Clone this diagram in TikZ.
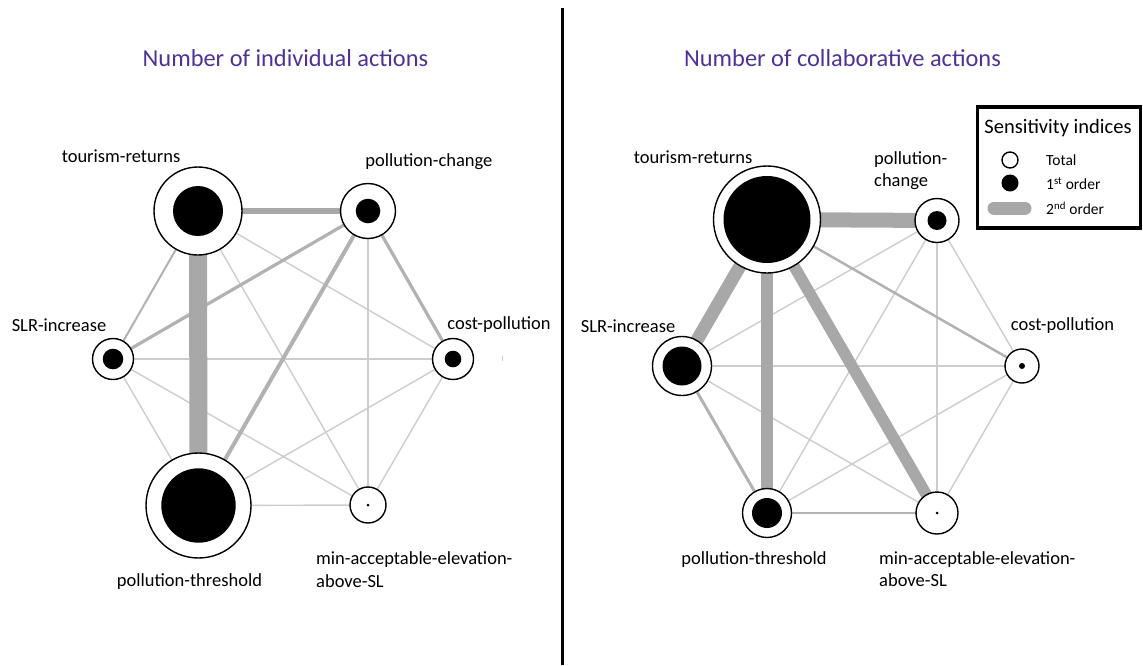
\documentclass[tikz,border=0pt]{standalone}
\usepackage{fontspec}
\setmainfont{Carlito}
\usetikzlibrary{backgrounds}
\definecolor{ttl}{RGB}{80,50,150}
\definecolor{thk}{RGB}{168,168,168}
\definecolor{mid}{RGB}{178,178,178}
\definecolor{lgt}{RGB}{205,205,205}
\tikzset{
  outer/.style={circle,draw=black,line width=1.4pt,fill=white,inner sep=0pt,minimum size=#1},
  innerdot/.style={circle,fill=black,inner sep=0pt,minimum size=#1},
  lbl/.style={font=\fontsize{18.5}{21}\selectfont,inner sep=0pt,align=left},
  title/.style={font=\fontsize{24.4}{27}\selectfont,text=ttl,inner sep=0pt},
  thin edge/.style={draw=lgt,line width=1.4pt},
  mid edge/.style={draw=mid,line width=#1},
  thick edge/.style={draw=thk,line width=#1},
}
\begin{document}
\begin{tikzpicture}[x=1pt,y=-1pt]
\useasboundingbox (0,0) rectangle (1143,665);
% divider
\coordinate (dtop) at (562,8);
\coordinate (dbot) at (562,665);
\draw[line width=3pt] (dtop) -- (dbot);
% titles
\node[title] (t1) at (285.5,58.5) {Number of individual actions};
\node[title] (t2) at (842.5,58.5) {Number of collaborative actions};

% ===== left panel nodes =====
\node[outer=88pt] (lTR) at (198,211) {};
\node[outer=55pt] (lPC) at (368,211) {};
\node[outer=41pt] (lSLR) at (113,359) {};
\node[outer=41pt] (lCP) at (453,359) {};
\node[outer=105pt] (lPT) at (198.5,505.5) {};
\node[outer=36pt] (lMA) at (368,505) {};
\node[innerdot=50pt] (lTRi) at (lTR) {};
\node[innerdot=24.6pt] (lPCi) at (lPC) {};
\node[innerdot=20.6pt] (lSLRi) at (lSLR) {};
\node[innerdot=16.6pt] (lCPi) at (lCP) {};
\node[innerdot=74.4pt] (lPTi) at (lPT) {};
\node[innerdot=3pt] (lMAi) at (lMA) {};
% left labels
\node[lbl] (llTR) at (121,156.5) {tourism-returns};
\node[lbl] (llPC) at (429,161.5) {pollution-change};
\node[lbl] (llSLR) at (59,325) {SLR-increase};
\node[lbl] (llCP) at (499,325) {cost-pollution};
\node[lbl] (llPT) at (189.5,582) {pollution-threshold};
\node[lbl,anchor=north west] (llMA) at (316,551) {min-acceptable-elevation-\\[2pt]above-SL};
% small mark
\coordinate (mk1) at (502,356);
\coordinate (mk2) at (502,361);
\draw[lgt,line width=1pt] (mk1) -- (mk2);

% ===== right panel nodes =====
\node[outer=107pt] (rTR) at (767,219.5) {};
\node[outer=44pt] (rPC) at (937,220.5) {};
\node[outer=59pt] (rSLR) at (682,366) {};
\node[outer=34pt] (rCP) at (1022,366) {};
\node[outer=49pt] (rPT) at (767,513) {};
\node[outer=42pt] (rMA) at (937,513) {};
\node[innerdot=87pt] (rTRi) at (rTR) {};
\node[innerdot=19pt] (rPCi) at (rPC) {};
\node[innerdot=39pt] (rSLRi) at (rSLR) {};
\node[innerdot=6pt] (rCPi) at (rCP) {};
\node[innerdot=30pt] (rPTi) at (rPT) {};
\node[innerdot=3pt] (rMAi) at (rMA) {};
% right labels
\node[lbl] (rlTR) at (693,157.5) {tourism-returns};
\node[lbl,anchor=north west] (rlPC) at (874,151) {pollution-\\[1pt]change};
\node[lbl] (rlSLR) at (628,326) {SLR-increase};
\node[lbl] (rlCP) at (1062.5,326) {cost-pollution};
\node[lbl] (rlPT) at (754,560) {pollution-threshold};
\node[lbl,anchor=north west] (rlMA) at (879,551) {min-acceptable-elevation-\\[1pt]above-SL};

% ===== legend =====
\node[draw=black,line width=3.5pt,minimum width=163pt,minimum height=121pt,inner sep=0pt] (leg) at (1059,167.5) {};
\node[font=\fontsize{20.5}{23}\selectfont,inner sep=0pt] (legt) at (1058,128) {Sensitivity indices};
\node[circle,draw=black,line width=1.4pt,fill=white,minimum size=16pt,inner sep=0pt] (lgTot) at (1010,160) {};
\node[circle,fill=black,minimum size=17pt,inner sep=0pt] (lgFirst) at (1010,183) {};
\coordinate (lgb1) at (994,208);
\coordinate (lgb2) at (1025,208);
\draw[thk,line width=13pt,line cap=round] (lgb1) -- (lgb2);
\node[font=\fontsize{15.5}{18}\selectfont,anchor=west,inner sep=0pt] (lgT1) at (1046,160) {Total};
\node[font=\fontsize{15.5}{18}\selectfont,anchor=west,inner sep=0pt] (lgT2) at (1046,184) {1\textsuperscript{st} order};
\node[font=\fontsize{15.5}{18}\selectfont,anchor=west,inner sep=0pt] (lgT3) at (1046,208) {2\textsuperscript{nd} order};

% ===== edges =====
\begin{scope}[on background layer]
% left
\draw[thin edge] (lTR.center) -- (lCP.center);
\draw[thin edge] (lTR.center) -- (lMA.center);
\draw[thin edge] (lPC.center) -- (lMA.center);
\draw[thin edge] (lSLR.center) -- (lCP.center);
\draw[thin edge] (lSLR.center) -- (lPT.center);
\draw[thin edge] (lSLR.center) -- (lMA.center);
\draw[thin edge] (lCP.center) -- (lPT.center);
\draw[thin edge] (lCP.center) -- (lMA.center);
\draw[thin edge] (lPT.center) -- (lMA.center);
\draw[mid edge=2pt] (lTR.center) -- (lSLR.center);
\draw[mid edge=3.2pt] (lPC.center) -- (lSLR.center);
\draw[mid edge=3.2pt] (lPC.center) -- (lCP.center);
\draw[mid edge=4pt] (lPC.center) -- (lPT.center);
\draw[thick edge=6pt] (lTR.center) -- (lPC.center);
\draw[thick edge=18pt] (lTR.center) -- (lPT.center);
% right
\draw[thin edge] (rPC.center) -- (rSLR.center);
\draw[thin edge] (rPC.center) -- (rPT.center);
\draw[thin edge] (rPC.center) -- (rCP.center);
\draw[thin edge] (rPC.center) -- (rMA.center);
\draw[thin edge] (rSLR.center) -- (rCP.center);
\draw[thin edge] (rSLR.center) -- (rMA.center);
\draw[thin edge] (rCP.center) -- (rPT.center);
\draw[thin edge] (rCP.center) -- (rMA.center);
\draw[mid edge=2pt] (rPT.center) -- (rMA.center);
\draw[mid edge=2.5pt] (rTR.center) -- (rCP.center);
\draw[mid edge=3pt] (rSLR.center) -- (rPT.center);
\draw[thick edge=15pt] (rTR.center) -- (rPC.center);
\draw[thick edge=13pt] (rTR.center) -- (rSLR.center);
\draw[thick edge=11.5pt] (rTR.center) -- (rPT.center);
\draw[thick edge=11.5pt] (rTR.center) -- (rMA.center);
\end{scope}
\end{tikzpicture}
\end{document}
